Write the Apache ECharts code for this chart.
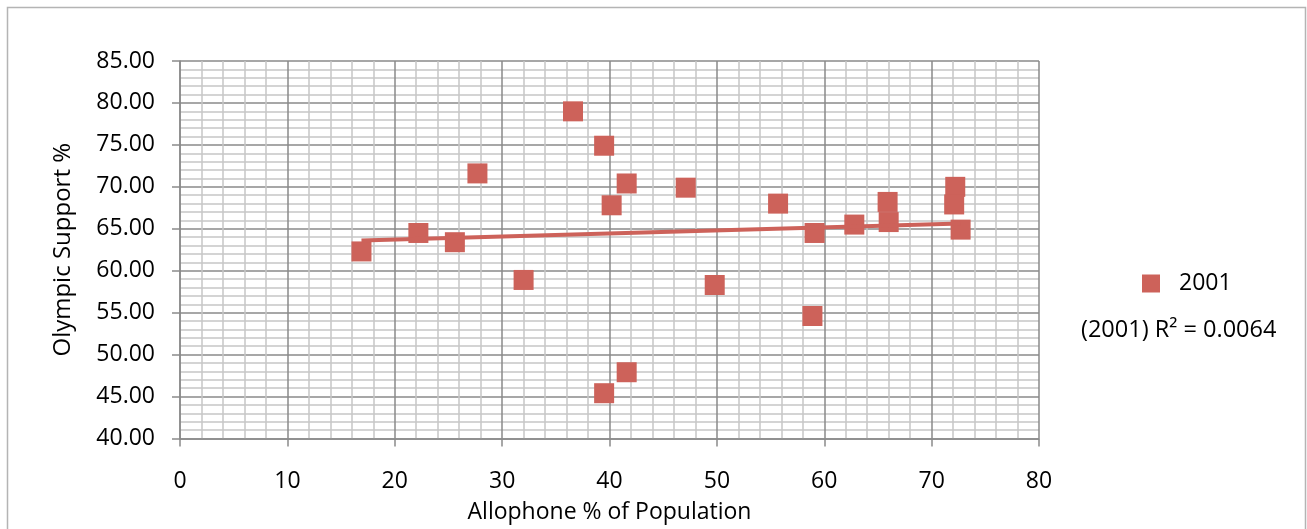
<!DOCTYPE html>
<html>
<head>
<meta charset="utf-8">
<style>
  html, body { margin: 0; padding: 0; background: #fff; }
  #chart { width: 1307px; height: 529px; }
</style>
<script src="https://cdn.jsdelivr.net/npm/echarts@6/dist/echarts.min.js"></script>
</head>
<body>
<div id="chart"></div>
<script>
// Allophone share of population (x) vs. Olympic support (y), 2001
const seriesName = '2001';
const allophonePct = [16.9, 22.2, 25.6, 27.7, 32.0, 36.6, 39.5, 40.2, 41.6, 39.5, 41.6, 47.1, 49.8, 55.7, 59.1, 58.9, 62.8, 65.9, 66.0, 72.2, 72.1, 72.7];
const olympicSupport = [62.3, 64.5, 63.4, 71.6, 58.9, 79.0, 74.9, 67.8, 70.4, 45.4, 47.9, 69.9, 58.3, 68.0, 64.5, 54.6, 65.5, 68.2, 65.8, 70.0, 67.9, 64.9];
const rSquaredLabel = '(2001) R² = 0.0064';
const xAxisTitle = 'Allophone % of Population';
const yAxisTitle = 'Olympic Support %';

const RED = '#CD625A';
const FONT = '"Open Sans", "Liberation Sans", sans-serif';

// least-squares linear trend over the points
const n = allophonePct.length;
const mx = allophonePct.reduce((a, b) => a + b, 0) / n;
const my = olympicSupport.reduce((a, b) => a + b, 0) / n;
let sxy = 0, sxx = 0;
for (let i = 0; i < n; i++) {
  sxy += (allophonePct[i] - mx) * (olympicSupport[i] - my);
  sxx += (allophonePct[i] - mx) ** 2;
}
const slope = sxy / sxx;
const intercept = my - slope * mx;
const xMin = Math.min(...allophonePct);
const xMax = Math.max(...allophonePct);
const trend = [[xMin, intercept + slope * xMin], [xMax, intercept + slope * xMax]];

const points = allophonePct.map((x, i) => [x, olympicSupport[i]]);

const chart = echarts.init(document.getElementById('chart'), null, { renderer: 'canvas' });
chart.setOption({
  animation: false,
  backgroundColor: '#fff',
  textStyle: { fontFamily: FONT },
  grid: { left: 180, top: 61, right: 268, bottom: 90.5, containLabel: false },
  xAxis: {
    type: 'value', min: 0, max: 80, interval: 10,
    name: xAxisTitle, nameLocation: 'middle', nameGap: 62,
    nameTextStyle: { fontSize: 23, color: '#000', fontFamily: FONT },
    axisLine: { show: true, onZero: false, lineStyle: { color: '#8a8a8a', width: 1.5 } },
    axisTick: { show: true, length: 8, lineStyle: { color: '#8a8a8a', width: 1.5 } },
    axisLabel: { fontSize: 23, color: '#000', margin: 31, fontFamily: FONT },
    splitLine: { show: true, lineStyle: { color: '#8a8a8a', width: 1.5 } },
    minorTick: { show: false, splitNumber: 5 },
    minorSplitLine: { show: true, lineStyle: { color: '#c6c6c6', width: 1.5 } }
  },
  yAxis: {
    type: 'value', min: 40, max: 85, interval: 5,
    name: yAxisTitle, nameLocation: 'middle', nameGap: 105, nameRotate: 90,
    nameTextStyle: { fontSize: 24, color: '#000', fontFamily: FONT },
    axisLine: { show: true, onZero: false, lineStyle: { color: '#8a8a8a', width: 1.5 } },
    axisTick: { show: true, length: 8, lineStyle: { color: '#8a8a8a', width: 1.5 } },
    axisLabel: { fontSize: 23, color: '#000', margin: 25, formatter: v => v.toFixed(2), fontFamily: FONT },
    splitLine: { show: true, lineStyle: { color: '#8a8a8a', width: 1.5 } },
    minorTick: { show: false, splitNumber: 5 },
    minorSplitLine: { show: true, lineStyle: { color: '#c6c6c6', width: 1.5 } }
  },
  legend: {
    left: 1137, top: 267, orient: 'vertical',
    itemWidth: 18, itemHeight: 18,
    data: [{ name: seriesName, icon: 'rect' }],
    textStyle: { fontSize: 23, color: '#000', padding: [0, 0, 0, 14], fontFamily: FONT }
  },
  series: [
    {
      name: seriesName, type: 'scatter', data: points,
      symbol: 'rect', symbolSize: 20,
      itemStyle: { color: RED, opacity: 1 },
      z: 3
    },
    {
      name: 'trend', type: 'line', data: trend,
      showSymbol: false, symbol: 'none',
      lineStyle: { color: RED, width: 4 },
      z: 4, silent: true
    }
  ],
  graphic: [
    {
      type: 'rect', left: 5, top: 5, silent: true,
      shape: { width: 1298, height: 540 },
      style: { fill: null, stroke: '#b4b4b4', lineWidth: 1.5 }
    },
    {
      type: 'text', left: 1081, top: 318,
      style: { text: rSquaredLabel, font: '23.5px ' + FONT, fill: '#000' }
    }
  ]
});
</script>
</body>
</html>
